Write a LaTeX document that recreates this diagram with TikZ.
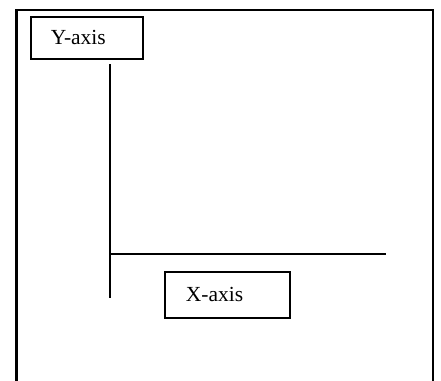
\documentclass[tikz,border=0pt]{standalone}
\usepackage{fontspec}
\setmainfont{Liberation Serif}
\begin{document}
\begin{tikzpicture}[x=1pt,y=-1pt,
  frame/.style={line width=2.4pt},
  labelbox/.style={draw, line width=1.7pt, anchor=north west, align=left,
    font=\fontsize{21.5}{24}\selectfont, minimum height=42pt, inner ysep=0pt},
  axisline/.style={line width=1.5pt}]
  \useasboundingbox (0,0) rectangle (441,380);
  % outer frame, open at the bottom
  \begin{scope}
    \clip (0,0) rectangle (441,380);
    \draw[frame] (16.5,390) -- (16.5,10) -- (433,10) -- (433,390);
  \end{scope}
  % labels
  \node[labelbox, inner xsep=20pt, text width=72pt] (ylab) at (30,16) {Y-axis};
  \node[labelbox, inner xsep=21pt, text width=83pt, minimum height=46pt] (xlab) at (164,271) {X-axis};
  % axes
  \coordinate (ytop) at (110,64);
  \coordinate (ybot) at (110,298);
  \coordinate (orig) at (110,254);
  \coordinate (xend) at (386,254);
  \draw[axisline] (ytop) -- (ybot);
  \draw[axisline] (orig) -- (xend);
\end{tikzpicture}
\end{document}
